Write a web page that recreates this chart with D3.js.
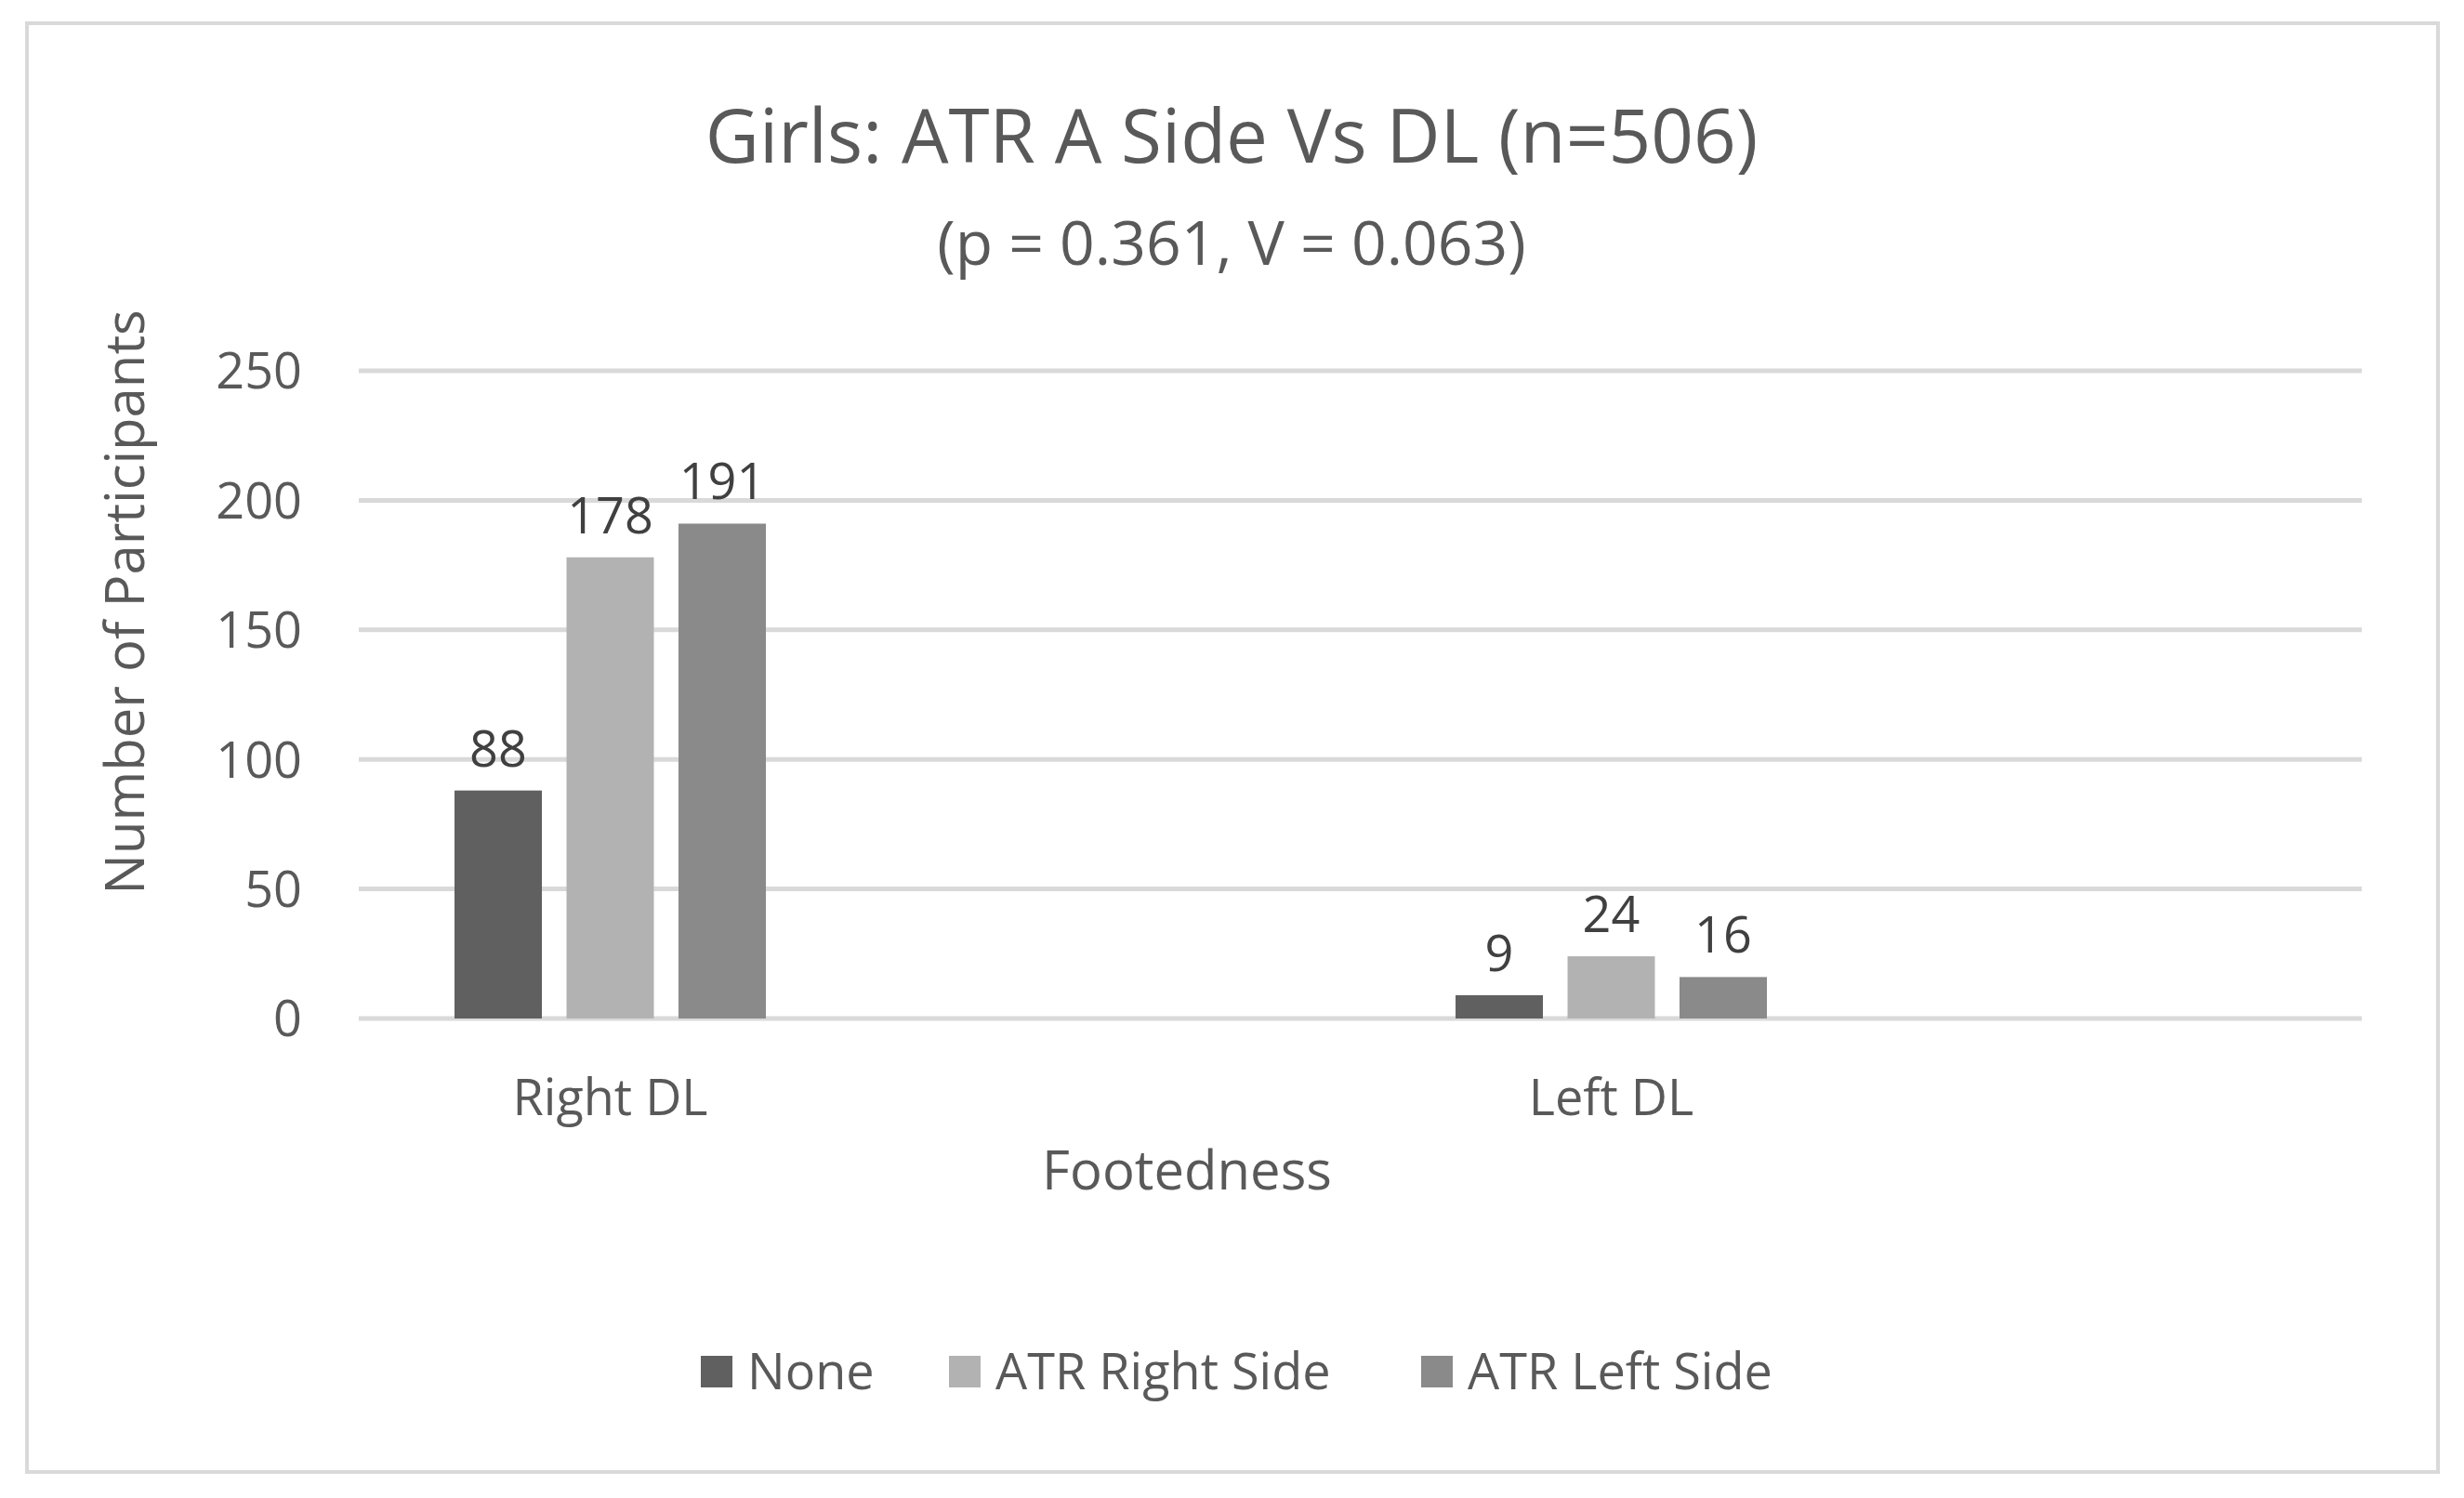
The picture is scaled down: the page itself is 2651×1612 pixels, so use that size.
<!DOCTYPE html>
<html>
<head>
<meta charset="utf-8">
<script src="https://cdn.jsdelivr.net/npm/d3@7"></script>
<style>
  body { margin: 0; background: #fff; }
  text { font-family: "Open Sans", "Noto Sans", sans-serif; fill: #595959; }
</style>
</head>
<body>
<svg id="chart" width="2651" height="1612"></svg>
<script>
const categories = ["Right DL", "Left DL"];
const seriesNames = ["None", "ATR Right Side", "ATR Left Side"];
const seriesColors = ["#606060", "#b2b2b2", "#8a8a8a"];
const noneValues = [88, 9];
const atrRightValues = [178, 24];
const atrLeftValues = [191, 16];
const yTicks = [0, 50, 100, 150, 200, 250];

const svg = d3.select("#chart");
const gridLeft = 386, gridRight = 2541;
const plotTop = 399, plotBottom = 1096;

// border
svg.append("rect").attr("x", 29).attr("y", 25).attr("width", 2594).attr("height", 1559)
    .attr("fill", "none").attr("stroke", "#d9d9d9").attr("stroke-width", 4);

const y = d3.scaleLinear().domain([0, 250]).range([plotBottom, plotTop]);
const x = d3.scaleBand().domain(categories).range([118, 2272]);
const x1 = d3.scaleBand().domain(seriesNames).range([0, 335]).paddingInner(0.22);
const groupOffset = (x.bandwidth() - 335) / 2;

// gridlines
svg.append("g").selectAll("line").data(yTicks).enter().append("line")
    .attr("x1", gridLeft).attr("x2", gridRight)
    .attr("y1", d => y(d)).attr("y2", d => y(d))
    .attr("stroke", "#d9d9d9").attr("stroke-width", 5);

// y axis labels
const yAxis = d3.axisLeft(y).tickValues(yTicks).tickSize(0).tickPadding(0);
const ga = svg.append("g").attr("transform", "translate(325,0)").call(yAxis);
ga.select(".domain").remove();
ga.selectAll("text").style("font-size", "54px").attr("fill", "#595959")
    .style("font-family", "'Open Sans', sans-serif").attr("dy", "0.35em");

const values = [noneValues, atrRightValues, atrLeftValues];
const rows = [];
seriesNames.forEach((s, i) => categories.forEach((c, j) => rows.push({ s, c, v: values[i][j], color: seriesColors[i] })));

svg.append("g").selectAll("rect").data(rows).enter().append("rect")
    .attr("x", d => x(d.c) + groupOffset + x1(d.s))
    .attr("y", d => y(d.v))
    .attr("width", x1.bandwidth())
    .attr("height", d => plotBottom - y(d.v))
    .attr("fill", d => d.color);

svg.append("g").selectAll("text").data(rows).enter().append("text")
    .attr("x", d => x(d.c) + groupOffset + x1(d.s) + x1.bandwidth() / 2)
    .attr("y", d => y(d.v) - 26)
    .attr("text-anchor", "middle")
    .style("font-size", "54px").style("fill", "#404040")
    .text(d => d.v);

// category labels
svg.append("g").selectAll("text").data(categories).enter().append("text")
    .attr("x", d => x(d) + x.bandwidth() / 2).attr("y", 1200)
    .attr("text-anchor", "middle").style("font-size", "54px").text(d => d);

// titles
svg.append("text").attr("x", 1325).attr("y", 175).attr("text-anchor", "middle")
    .style("font-size", "80px").text("Girls: ATR A Side Vs DL (n=506)");
svg.append("text").attr("x", 1325).attr("y", 285).attr("text-anchor", "middle")
    .style("font-size", "66px").text("(p = 0.361, V = 0.063)");
svg.append("text").attr("x", 1277).attr("y", 1280).attr("text-anchor", "middle")
    .style("font-size", "58px").text("Footedness");
svg.append("text").attr("transform", "translate(155,648) rotate(-90)").attr("text-anchor", "middle")
    .style("font-size", "58px").text("Number of Participants");

// legend
const legendX = [754, 1021, 1529];
const lg = svg.append("g").selectAll("g").data(seriesNames).enter().append("g")
    .attr("transform", (d, i) => `translate(${legendX[i]},1476)`);
lg.append("rect").attr("x", 0).attr("y", -17).attr("width", 34).attr("height", 34)
    .attr("fill", (d, i) => seriesColors[i]);
lg.append("text").attr("x", 50).attr("dy", "0.35em").style("font-size", "54px").text(d => d);
</script>
</body>
</html>
